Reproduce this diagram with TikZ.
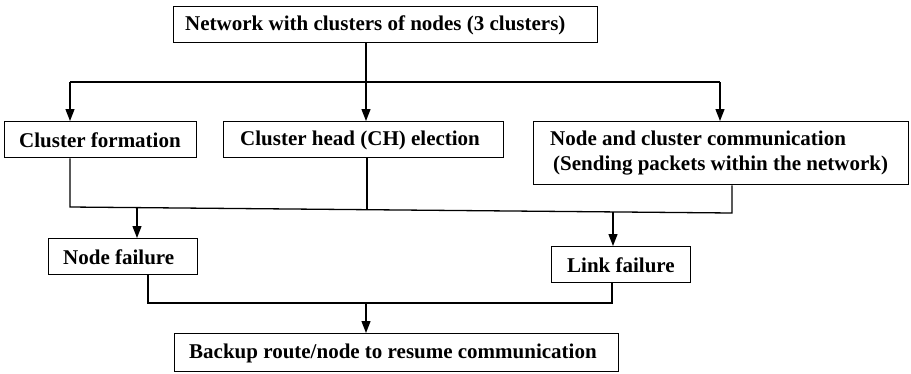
\documentclass[tikz,border=0pt]{standalone}
\usepackage{fontspec}
\setmainfont{Liberation Serif}
\usetikzlibrary{arrows.meta}
\begin{document}
\begin{tikzpicture}[x=1pt,y=-1pt,
  box/.style={draw,line width=1.3pt,inner sep=0pt,anchor=north west},
  lbl/.style={anchor=west,inner sep=0pt,font=\fontsize{21}{25}\selectfont\bfseries,align=left},
  conn/.style={line width=1.3pt},
  arr/.style={line width=1.3pt,-{Triangle[length=12pt,width=9pt]}}]
\useasboundingbox (0,0) rectangle (911,373);
% boxes
\node[box,minimum width=424pt,minimum height=36pt] (top) at (173,6) {};
\node[box,minimum width=192pt,minimum height=36pt] (cf) at (4,121) {};
\node[box,minimum width=280pt,minimum height=36pt] (ch) at (223,121) {};
\node[box,minimum width=375pt,minimum height=63pt] (nc) at (533,121) {};
\node[box,minimum width=149pt,minimum height=36pt] (nf) at (48,238) {};
\node[box,minimum width=139pt,minimum height=36pt] (lf) at (551,246) {};
\node[box,minimum width=444pt,minimum height=38pt] (bk) at (174,333) {};
% texts
\node[lbl] (ttop) at (185,25) {Network with clusters of nodes (3 clusters)};
\node[lbl] (tcf) at (19,140) {Cluster formation};
\node[lbl] (tch) at (240,140) {Cluster head (CH) election};
\node[lbl] (tnc) at (550,153) {Node and cluster communication\\\hspace{3pt}(Sending packets within the network)};
\node[lbl] (tnf) at (63,257) {Node failure};
\node[lbl] (tlf) at (567,265) {Link failure};
\node[lbl] (tbk) at (189,353) {Backup route/node to resume communication};
% upper bus
\coordinate (jl) at (70,82);
\coordinate (jm) at (366,82);
\coordinate (jr) at (720,82);
\draw[conn] (top.south -| jm) -- (jm);
\draw[conn] (jl) -- (jr);
\draw[arr] (jl) -- (cf.north -| jl);
\draw[arr] (jm) -- (ch.north -| jm);
\draw[arr] (jr) -- (nc.north -| jr);
% lower bus
\coordinate (l1) at (70,207);
\coordinate (r1) at (732,213);
\coordinate (m1) at (367,209.7);
\coordinate (a1) at (137,207.6);
\coordinate (a2) at (613,211.9);
\draw[conn] (cf.south -| l1) -- (l1) -- (r1) -- (nc.south -| r1);
\draw[conn] (ch.south -| m1) -- (m1);
\draw[arr] (a1) -- (nf.north -| a1);
\draw[arr] (a2) -- (lf.north -| a2);
% bottom bus
\coordinate (bl) at (148,303);
\coordinate (br) at (612,303);
\coordinate (bm) at (366,303);
\draw[conn] (nf.south -| bl) -- (bl) -- (br) -- (lf.south -| br);
\draw[arr] (bm) -- (bk.north -| bm);
\end{tikzpicture}
\end{document}
